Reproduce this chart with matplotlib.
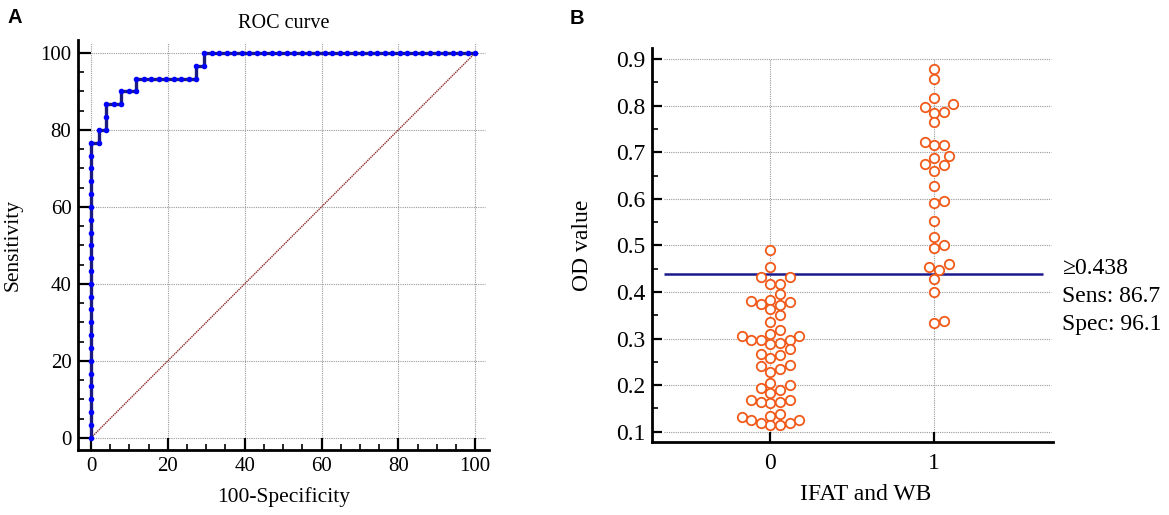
import numpy as np
import matplotlib.pyplot as plt

plt.rcParams['font.family'] = ['Liberation Serif', 'DejaVu Serif']

# ---- panel A: ROC points (counts of false / true positives) ----
n_neg = 51
n_pos = 30
roc_fp = [0, 0, 0, 0, 0, 0, 0, 0, 0, 0, 0, 0, 0, 0, 0, 0, 0, 0, 0, 0, 0, 0, 0, 0,
          1, 1, 2, 2, 2, 3, 4, 4, 5, 6, 6, 7, 8, 9, 10, 11, 12, 13, 14, 14, 15, 15,
          16, 17, 18, 19, 20, 21, 22, 23, 24, 25, 26, 27, 28, 29, 30, 31, 32, 33,
          34, 35, 36, 37, 38, 39, 40, 41, 42, 43, 44, 45, 46, 47, 48, 49, 50, 51]
roc_tp = [0, 1, 2, 3, 4, 5, 6, 7, 8, 9, 10, 11, 12, 13, 14, 15, 16, 17, 18, 19, 20, 21, 22, 23,
          23, 24, 24, 25, 26, 26, 26, 27, 27, 27, 28, 28, 28, 28, 28, 28, 28, 28, 28, 29, 29, 30,
          30, 30, 30, 30, 30, 30, 30, 30, 30, 30, 30, 30, 30, 30, 30, 30, 30, 30,
          30, 30, 30, 30, 30, 30, 30, 30, 30, 30, 30, 30, 30, 30, 30, 30, 30, 30]

# ---- panel B: OD values per group ----
od_neg = [0.490, 0.453, 0.433, 0.433, 0.416, 0.416, 0.395, 0.378, 0.380, 0.383,
          0.363, 0.372, 0.374, 0.350, 0.335, 0.318, 0.306, 0.306, 0.310,
          0.291, 0.289, 0.296, 0.297, 0.297, 0.277, 0.259, 0.264, 0.266,
          0.241, 0.244, 0.228, 0.235, 0.200, 0.204, 0.184, 0.189, 0.193,
          0.161, 0.164, 0.164, 0.168, 0.168, 0.131, 0.134, 0.138,
          0.114, 0.114, 0.118, 0.119, 0.125, 0.126]
od_pos = [0.878, 0.858, 0.816, 0.804, 0.798, 0.785, 0.787, 0.764,
          0.716, 0.716, 0.723, 0.687, 0.691, 0.672, 0.674, 0.659, 0.628,
          0.591, 0.595, 0.552, 0.517, 0.495, 0.500,
          0.460, 0.447, 0.453, 0.428, 0.400, 0.334, 0.337]
cutoff = 0.438
sens = 86.7
spec = 96.1

grid_kw = dict(colors='#9a9a9a', linestyles=(0, (1, 1)), linewidth=0.8, zorder=0)

fig = plt.figure(figsize=(11.69, 5.15), dpi=100)

# ================= A =================
ax = fig.add_axes([0.067, 0.126, 0.351, 0.796])
fpr = np.array(roc_fp) / n_neg * 100
tpr = np.array(roc_tp) / n_pos * 100
ax.set_xlim(-3.3, 103.5)
ax.set_ylim(-3.2, 103.3)
ticks = [0, 20, 40, 60, 80, 100]
ax.hlines(ticks, 0, 102.6, **grid_kw)
ax.vlines(ticks, 0, 102.6, **grid_kw)
ax.plot([0, 100], [0, 100], color='#8b2a2a', lw=1.0, ls=(0, (1, 0.6)), zorder=1)
ax.plot(fpr, tpr, color='#1c1c80', lw=2.4, zorder=2, solid_joinstyle='miter')
ax.plot(fpr, tpr, ls='none', marker='o', ms=3, color='#0000ff', zorder=3)
ax.set_xticks(ticks)
ax.set_yticks(ticks)
ax.set_xticks(np.arange(0, 101, 5), minor=True)
ax.set_yticks(np.arange(0, 101, 5), minor=True)
for s in ['top', 'right']:
    ax.spines[s].set_visible(False)
for s in ['left', 'bottom']:
    ax.spines[s].set_linewidth(2)
ax.tick_params(which='major', direction='in', length=9, width=1.6, labelsize=15, pad=5)
ax.tick_params(which='minor', direction='in', length=4.5, width=1.2)
ax.set_title('ROC curve', fontsize=14.5, pad=9)
ax.set_xlabel('100-Specificity', fontsize=15.5)
ax.set_ylabel('Sensitivity', fontsize=15.5)
ax.xaxis.set_label_coords(0.5, -0.09)
ax.yaxis.set_label_coords(-0.135, 0.5)
ax.xaxis.label.set_va('top')

# ================= B =================
bx = fig.add_axes([0.558, 0.141, 0.343, 0.766])
bx.set_xlim(-0.72, 1.726)
bx.set_ylim(0.077, 0.924)
yt = [0.1, 0.2, 0.3, 0.4, 0.5, 0.6, 0.7, 0.8, 0.9]
bx.hlines(yt, -0.65, 1.71, **grid_kw)
bx.vlines([0, 1], 0.1, 0.9, **grid_kw)
bx.hlines(cutoff, -0.646, 1.663, color='#1a1a8c', lw=1.8, zorder=2)

# simple beeswarm in pixel space
t0 = bx.transData.transform((0, 0))
t1 = bx.transData.transform((1, 1))
px_x = t1[0] - t0[0]
px_y = t1[1] - t0[1]
d = 9.6
half = d / 2


def swarm(vals):
    order = np.argsort(vals)
    placed = []
    offs = np.zeros(len(vals))
    for i in order:
        y = vals[i] * px_y
        for k in range(0, 30):
            c = ((k + 1) // 2) * half * (1 if k % 2 else -1) if k else 0.0
            ok = all((c - px) ** 2 + (y - py) ** 2 >= (0.97 * d) ** 2 for px, py in placed)
            if ok:
                break
        placed.append((c, y))
        offs[i] = c / px_x
    return offs


for g, vals in enumerate([od_neg, od_pos]):
    vals = np.array(vals)
    xo = swarm(vals)
    bx.scatter(g + xo, vals, s=46, facecolors='white', edgecolors='#f25a1a',
               linewidths=1.3, zorder=3)

bx.set_xticks([0, 1])
bx.set_yticks(yt)
bx.set_yticks(np.arange(0.15, 0.9, 0.1), minor=True)
bx.set_yticklabels(['%.1f' % v for v in yt])
for s in ['top', 'right']:
    bx.spines[s].set_visible(False)
for s in ['left', 'bottom']:
    bx.spines[s].set_linewidth(2)
bx.tick_params(which='major', direction='in', length=7.5, width=1.6, labelsize=17, pad=5)
bx.tick_params(axis='x', pad=8)
bx.tick_params(which='minor', direction='in', length=4.3, width=1.2)
bx.set_xlabel('IFAT and WB', fontsize=17)
bx.set_ylabel('OD value', fontsize=17)
bx.xaxis.set_label_coords(0.533, -0.105)
bx.yaxis.set_label_coords(-0.148, 0.5)
bx.xaxis.label.set_va('top')
bx.text(1.779, 0.390, '\u2265%.3f\nSens: %.1f\nSpec: %.1f' % (cutoff, sens, spec),
        fontsize=17, va='center', ha='left', linespacing=1.45, clip_on=False)

fig.text(0.006, 0.985, 'A', fontsize=14.5, fontweight='bold', family='Liberation Sans', va='top')
fig.text(0.487, 0.983, 'B', fontsize=14.5, fontweight='bold', family='Liberation Sans', va='top')

fig.savefig('out.png', dpi=100)
